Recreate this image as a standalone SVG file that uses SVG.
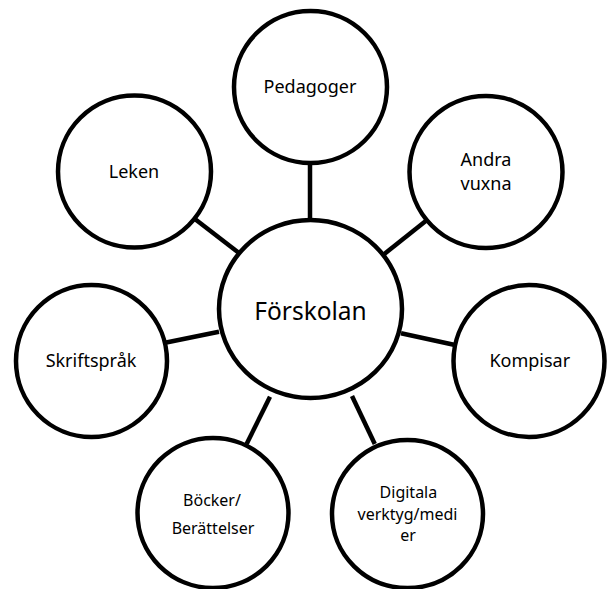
<svg xmlns="http://www.w3.org/2000/svg" width="607" height="589" viewBox="0 0 607 589">
<style>
.n{fill:#fff;stroke:#000;stroke-width:4.5}
.c line{stroke:#000;stroke-width:4.5}
text{font-family:"Noto Sans","Open Sans","Liberation Sans",sans-serif;font-size:18px;fill:#000;text-anchor:middle}
.s{font-size:16px}
.b{font-size:24.5px}
</style>
<rect width="607" height="589" fill="#fff"/>
<g id="connectors" class="c">
<line x1="310" y1="163" x2="310" y2="222"/>
<line x1="193.6" y1="218" x2="239" y2="253"/>
<line x1="427" y1="220" x2="383" y2="255"/>
<line x1="165" y1="342.7" x2="219" y2="331.7"/>
<line x1="401" y1="333.3" x2="455" y2="345"/>
<line x1="270" y1="396.7" x2="246.6" y2="444"/>
<line x1="352" y1="396" x2="374.8" y2="444"/>
</g>
<g id="pedagoger"><ellipse class="n" cx="310.5" cy="87" rx="76.5" ry="76"/><text x="310" y="93">Pedagoger</text></g>
<g id="leken"><ellipse class="n" cx="134.5" cy="171.5" rx="76.5" ry="76"/><text x="134" y="178">Leken</text></g>
<g id="andra-vuxna"><ellipse class="n" cx="486" cy="172" rx="76.5" ry="76"/><text x="486" y="166">Andra</text><text x="486" y="190">vuxna</text></g>
<g id="forskolan"><ellipse class="n" cx="310.5" cy="309" rx="91.5" ry="89"/><text class="b" x="310.5" y="320">Förskolan</text></g>
<g id="skriftsprak"><ellipse class="n" cx="91.5" cy="361" rx="75.5" ry="76"/><text x="91" y="367">Skriftspråk</text></g>
<g id="kompisar"><ellipse class="n" cx="529" cy="361" rx="75.5" ry="76"/><text x="529.8" y="367">Kompisar</text></g>
<g id="bocker"><ellipse class="n" cx="213" cy="513" rx="75.5" ry="75"/><text class="s" x="212" y="506">Böcker/</text><text class="s" x="213" y="534">Berättelser</text></g>
<g id="digitala"><ellipse class="n" cx="407.5" cy="514" rx="75.5" ry="74"/><text class="s" x="408.4" y="498">Digitala</text><text class="s" x="407.5" y="520">verktyg/medi</text><text class="s" x="408" y="541">er</text></g>
</svg>
